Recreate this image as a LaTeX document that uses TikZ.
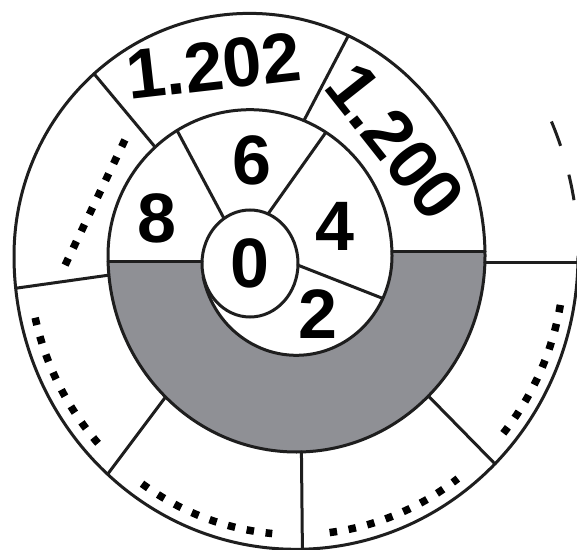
\documentclass[tikz,border=0pt]{standalone}
\usepackage{fontspec}
\setmainfont{Liberation Sans}
\usepackage{tikz}
\usetikzlibrary{shapes.geometric, calc, positioning}
\definecolor{inkline}{HTML}{1E1E1E}
\definecolor{bandgray}{HTML}{8F9095}
\newcommand{\digitfont}{\fontsize{70}{70}\selectfont\bfseries}
\tikzset{
  % spiral walls and cell dividers
  wall/.style={draw=inkline, line width=3pt, line cap=round, line join=round},
  % dotted rows in the empty cells
  dotrow/.style={draw=black, line width=7.5pt, dash pattern=on 7.5pt off #1},
  dotrow/.default={11.5pt},
  % numbers in the cells
  digit/.style={font=\digitfont, inner sep=0pt, text=black},
  % centre cell
  hub/.style={ellipse, draw=inkline, line width=3pt, inner sep=0pt, outer sep=0pt,
    minimum width=96pt, minimum height=107pt, font=\digitfont},
}

\begin{document}
\begin{tikzpicture}[x=1pt, y=1pt]

  \useasboundingbox (0,0) rectangle (577,549);
  \fill[white] (0,0) rectangle (577,549);
  \clip (0,0) rectangle (577,549);

  % centres of the upper and lower half turns
  \coordinate (cu) at (250,293);
  \coordinate (cl) at (296.5,293);

  % grey half ring
  \fill[bandgray] (108.1,287) -- (202,287)
    arc[start angle=178.4, end angle=192.3, x radius=48, y radius=53.5]
    -- ($(cl)+(192:95.5 and 99.3)$)
    arc[start angle=192, end angle=360, x radius=95.5, y radius=99.3]
    -- (392,297) -- (485,297) -- (485,293)
    arc[start angle=0, end angle=-178.25, x radius=188.5, y radius=196] -- cycle;

  % centre
  \node[hub] (zero) at (250,285.5) {0};

  % spiral
  \draw[wall] ($(cl)+(192:95.5 and 99.3)$)
    arc[start angle=192, end angle=360, x radius=95.5, y radius=99.3]
    arc[start angle=0, end angle=180, x radius=142, y radius=146.3]
    arc[start angle=180, end angle=360, x radius=188.5, y radius=196]
    arc[start angle=0, end angle=180, x radius=235.5, y radius=242.6]
    arc[start angle=180, end angle=360, x radius=282, y radius=293.3];
  \draw[wall, line cap=butt, dash pattern=on 26pt off 30pt] ($(cu)+(9.5:328.5 and 338.4)$)
    arc[start angle=9.5, end angle=23.7, x radius=328.5, y radius=338.4];

  % dividers, inner turn
  \draw[wall] (zero.120.7) -- ($(cu)+(120.9:142 and 146.3)$);
  \draw[wall] (zero.70.7) -- ($(cu)+(57.7:142 and 146.3)$);
  \draw[wall] (zero.-2) -- ($(cl)+(334.7:95.5 and 99.3)$);
  \draw[wall] (108.1,287) -- (202,287);
  \draw[wall] (392,297) -- (485,297);

  % dividers, outer turn
  \draw[wall] ($(cu)+(131.4:235.5 and 242.6)$) -- ($(cu)+(131.9:142 and 146.3)$);
  \draw[wall] ($(cu)+(65.3:235.5 and 242.6)$) -- ($(cu)+(67.7:142 and 146.3)$);
  \draw[wall] ($(cl)+(186.3:282 and 293.3)$) -- ($(cl)+(185.6:188.5 and 196)$);
  \draw[wall] ($(cl)+(228:282 and 293.3)$) -- ($(cl)+(226:188.5 and 196)$);
  \draw[wall] ($(cl)+(271.5:188.5 and 196)$) -- ($(cl)+(271.2:282 and 293.3)$);
  \draw[wall] ($(cl)+(314.8:282 and 293.3)$) -- ($(cl)+(314.4:188.5 and 196)$);
  \draw[wall] (484.9,286) -- (580,286);

  % dotted rows
  \draw[dotrow=11.25pt] (65.1,283.9) -- (124.9,409.1);
  \foreach \a/\b in {192.8/222.6, 234.8/264.8, 277.1/307, 320.5/350}
    \draw[dotrow=11.7pt] ($(cl)+(\a:268 and 278.7)$)
      arc[start angle=\a, end angle=\b, x radius=268, y radius=278.7];

  % numbers
  \node[digit] (two) at (317.5,235) {2};
  \node[digit] (four) at (335,322.5) {4};
  \node[digit] (six) at (252,389) {6};
  \node[digit] (eight) at (156.5,330.5) {8};
  \node[digit, rotate=6.5] (n1202) at (213.3,483.2) {1.202};
  \node[digit, rotate=-51.7] (n1200) at (395.7,407.3) {1.200};

\end{tikzpicture}
\end{document}
